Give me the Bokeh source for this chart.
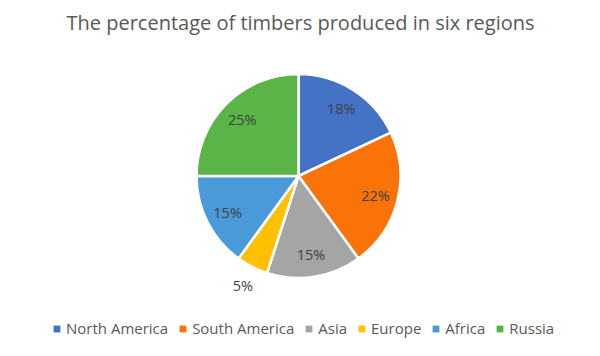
import math
from bokeh.plotting import figure
from bokeh.models import ColumnDataSource, Legend, LegendItem
from bokeh.core.properties import value
from bokeh.embed import file_html
from bokeh.resources import INLINE

regions = ["North America", "South America", "Asia", "Europe", "Africa", "Russia"]
percent = [18, 22, 15, 5, 15, 25]
colors = ["#4472C4", "#FA7308", "#A5A5A5", "#FFC000", "#4A99D8", "#5AB446"]
title_text = "The percentage of timbers produced in six regions"

W, H = 600, 356
cx, cy, R = 298, H - 175.5, 102

total = sum(percent)
starts, ends, lx, ly, labels = [], [], [], [], []
cum = 0.0
for v in percent:
    a0 = math.pi / 2 - 2 * math.pi * cum / total
    a1 = math.pi / 2 - 2 * math.pi * (cum + v) / total
    starts.append(a0)
    ends.append(a1)
    mid = (a0 + a1) / 2
    r = R * 1.2 if v < 8 else R * 0.78
    lx.append(cx + r * math.cos(mid))
    ly.append(cy + r * math.sin(mid))
    labels.append(f"{v}%")
    cum += v

src = ColumnDataSource(dict(region=regions, pct=percent, color=colors,
                            start=starts, end=ends, lx=lx, ly=ly, label=labels,
                            nx=[float("nan")] * len(regions),
                            ny=[float("nan")] * len(regions)))

p = figure(width=W, height=H, x_range=(0, W), y_range=(0, H),
           output_backend="svg", toolbar_location=None, min_border=0,
           outline_line_color=None, background_fill_color="white")
p.axis.visible = False
p.grid.visible = False

p.wedge(x=cx, y=cy, radius=R, start_angle="start", end_angle="end",
        direction="clock", fill_color="color", line_color="white",
        line_width=2.5, source=src)

p.text(x="lx", y="ly", text="label", source=src, text_align="center",
       text_baseline="middle", text_font=value("Open Sans"),
       text_font_size="14.5px", text_color="#404040")

p.text(x=[W / 2], y=[H - 22], text=[title_text], text_align="center",
       text_baseline="middle", text_font=value("Open Sans"),
       text_font_size="20px", text_color="#595959")

keys = p.scatter(x="nx", y="ny", marker="square", size=7, fill_color="color",
                 line_color=None, source=src)
items = [LegendItem(label=regions[i], renderers=[keys], index=i) for i in range(len(regions))]

legend = Legend(items=items, orientation="horizontal", location=(48, 18),
                glyph_width=17, glyph_height=17, label_standoff=1, spacing=6,
                padding=0, margin=0, border_line_color=None,
                background_fill_alpha=0, label_text_font="Open Sans",
                label_text_font_size="15px", label_text_color="#595959")
p.add_layout(legend, "center")

open("out.html", "w").write(file_html(p, INLINE))
